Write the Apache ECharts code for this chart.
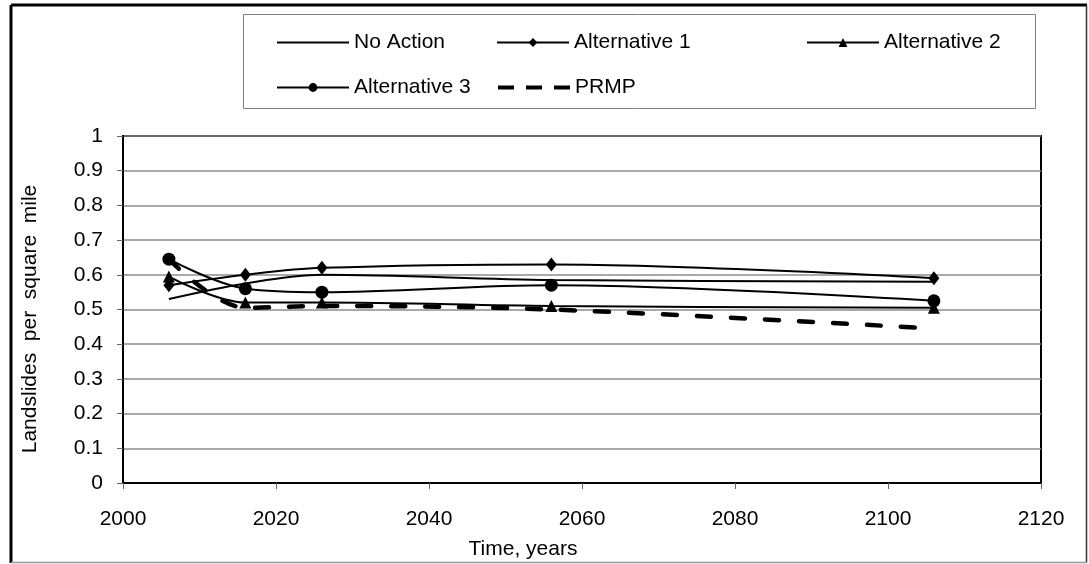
<!DOCTYPE html>
<html>
<head>
<meta charset="utf-8">
<title>Landslides per square mile</title>
<script src="https://cdn.jsdelivr.net/npm/echarts@6/dist/echarts.min.js"></script>
<style>
  html, body { margin: 0; padding: 0; background: #fff; }
  #chart { width: 1089px; height: 564px; }
</style>
</head>
<body>
<div id="chart"></div>
<script>
// Years sampled for every alternative
const years = [2006, 2016, 2026, 2056, 2106];

// Landslides per square mile for each management alternative
const noAction     = [0.53, 0.575, 0.60, 0.585, 0.58];
const alternative1 = [0.57, 0.60, 0.62, 0.63, 0.59];
const alternative2 = [0.595, 0.52, 0.52, 0.51, 0.505];
const alternative3 = [0.645, 0.56, 0.55, 0.57, 0.525];
const prmp         = [0.645, 0.505, 0.51, 0.50, 0.445];

const seriesNames = ['No Action', 'Alternative 1', 'Alternative 2', 'Alternative 3', 'PRMP'];

const FONT = '"Liberation Sans", Arial, sans-serif';
const FONT_SIZE = 21;

function pairs(values) {
  return years.map((y, i) => [y, values[i]]);
}

function lineSeries(name, values, symbol, symbolSize, lineStyle) {
  return {
    name: name,
    type: 'line',
    data: pairs(values),
    smooth: 0.35,
    symbol: symbol,
    symbolSize: symbolSize,
    showSymbol: symbol !== 'none',
    itemStyle: { color: '#000' },
    lineStyle: Object.assign({ color: '#000', width: 2 }, lineStyle || {}),
    emphasis: { disabled: true },
    animation: false
  };
}

// Legend slots: two rows inside the framed box above the plot
const legendSlots = [
  { name: 'No Action',     left: 276, top: 32, marker: false },
  { name: 'Alternative 1', left: 496, top: 32, marker: true },
  { name: 'Alternative 2', left: 806, top: 32, marker: true },
  { name: 'Alternative 3', left: 276, top: 77, marker: true },
  { name: 'PRMP',          left: 496, top: 77, marker: false, dashed: true }
];

const chart = echarts.init(document.getElementById('chart'), null, { renderer: 'canvas' });

const option = {
  backgroundColor: '#fff',
  animation: false,
  textStyle: { fontFamily: FONT },
  grid: {
    left: 123, top: 136, width: 918, height: 347,
    show: true, borderColor: '#000', borderWidth: 2, backgroundColor: 'transparent'
  },
  legend: legendSlots.map(s => ({
    data: [s.name],
    left: s.left,
    top: s.top,
    padding: 0,
    itemWidth: 72,
    itemHeight: 11,
    selectedMode: false,
    textStyle: { fontSize: FONT_SIZE, color: '#000', fontFamily: FONT },
    itemStyle: s.marker ? {} : { opacity: 0 },
    lineStyle: s.dashed
      ? { width: 4, type: [16, 12], cap: 'butt', color: '#000' }
      : { width: 2, color: '#000' }
  })),
  xAxis: {
    type: 'value',
    min: 2000, max: 2120, interval: 20,
    axisLine: { show: true, lineStyle: { color: '#000', width: 2 } },
    axisTick: { show: true, length: 6, lineStyle: { color: '#666', width: 1 } },
    axisLabel: { fontSize: FONT_SIZE, color: '#000', margin: 26, fontFamily: FONT, formatter: v => String(v) },
    splitLine: { show: false }
  },
  yAxis: {
    type: 'value',
    min: 0, max: 1, interval: 0.1,
    axisLine: { show: true, lineStyle: { color: '#000', width: 2 } },
    axisTick: { show: true, length: 6, lineStyle: { color: '#666', width: 1 } },
    axisLabel: { fontSize: FONT_SIZE, color: '#000', margin: 20, fontFamily: FONT },
    splitLine: { show: true, lineStyle: { color: '#8c8c8c', width: 1.5 } }
  },
  series: [
    lineSeries(seriesNames[0], noAction, 'none', 0),
    lineSeries(seriesNames[1], alternative1, 'diamond', [11, 14]),
    lineSeries(seriesNames[2], alternative2, 'triangle', 12),
    lineSeries(seriesNames[3], alternative3, 'circle', 13),
    lineSeries(seriesNames[4], prmp, 'none', 0, { width: 4.5, type: [14, 20], cap: 'round' })
  ],
  graphic: [
    // outer chart frame
    { type: 'line', shape: { x1: 11, y1: 5, x2: 1087, y2: 5 }, style: { stroke: '#000', lineWidth: 3 }, silent: true },
    { type: 'line', shape: { x1: 11, y1: 5, x2: 11, y2: 563 }, style: { stroke: '#000', lineWidth: 3 }, silent: true },
    { type: 'line', shape: { x1: 1086.5, y1: 5, x2: 1086.5, y2: 563 }, style: { stroke: '#333', lineWidth: 1.5 }, silent: true },
    { type: 'line', shape: { x1: 11, y1: 562.5, x2: 1087, y2: 562.5 }, style: { stroke: '#999', lineWidth: 1.5 }, silent: true },
    // legend box
    { type: 'rect', shape: { x: 243.5, y: 14.5, width: 792, height: 94 }, style: { fill: 'none', stroke: '#808080', lineWidth: 1 }, silent: true, z: -1 },
    // axis titles
    {
      type: 'text', x: 30, y: 319, rotation: Math.PI / 2, silent: true,
      style: { text: 'Landslides  per  square  mile', fontSize: FONT_SIZE, fontFamily: FONT, fill: '#000', align: 'center', verticalAlign: 'middle' }
    },
    {
      type: 'text', x: 523, y: 549, silent: true,
      style: { text: 'Time, years', fontSize: FONT_SIZE, fontFamily: FONT, fill: '#000', align: 'center', verticalAlign: 'middle' }
    }
  ]
};

chart.setOption(option);
</script>
</body>
</html>
